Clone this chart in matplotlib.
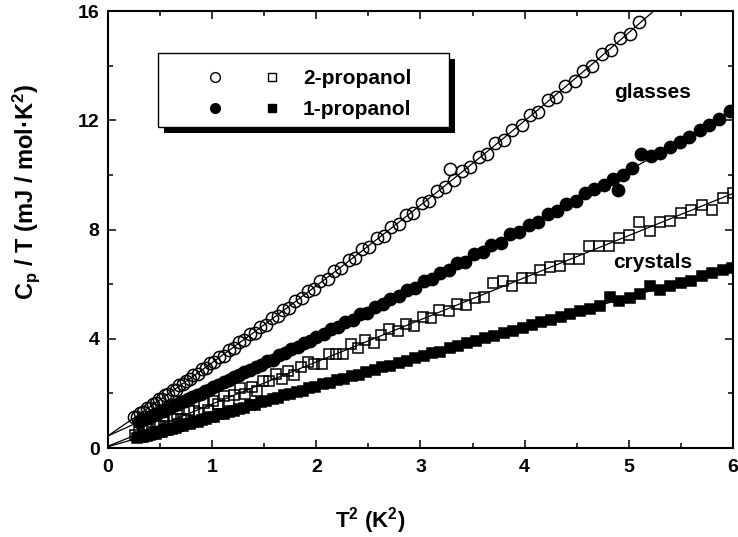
import numpy as np
import matplotlib.pyplot as plt
from matplotlib.lines import Line2D
from matplotlib.patches import Rectangle
from matplotlib.legend_handler import HandlerTuple
from matplotlib.ticker import MultipleLocator

plt.rcParams['font.family'] = 'Liberation Sans'
plt.rcParams['font.weight'] = 'bold'
plt.rcParams['axes.labelweight'] = 'bold'
plt.rcParams['mathtext.fontset'] = 'custom'
plt.rcParams['mathtext.rm'] = 'Liberation Sans:bold'
plt.rcParams['mathtext.it'] = 'Liberation Sans:bold'
plt.rcParams['mathtext.bf'] = 'Liberation Sans:bold'
plt.rcParams['mathtext.default'] = 'rm'

# 2-propanol glass (open circles), T^2 in K^2, Cp/T in mJ/mol K^2
x_2p_glass = [0.25, 0.28, 0.31, 0.34, 0.37, 0.40, 0.43, 0.46, 0.49, 0.52, 0.55, 0.58,
              0.62, 0.65, 0.68, 0.72, 0.75, 0.79, 0.82, 0.86, 0.90, 0.94, 0.98,
              1.02, 1.07, 1.11, 1.16, 1.21, 1.26, 1.31, 1.36, 1.41, 1.46, 1.52, 1.57,
              1.63, 1.68, 1.74, 1.80, 1.86, 1.92, 1.98,
              2.04, 2.11, 2.17, 2.24, 2.31, 2.37, 2.44, 2.51, 2.58, 2.65, 2.72, 2.79,
              2.86, 2.93,
              3.01, 3.08, 3.16, 3.24, 3.28, 3.32, 3.40, 3.48, 3.56, 3.64, 3.72, 3.80,
              3.88, 3.97,
              4.05, 4.13, 4.22, 4.30, 4.39, 4.48, 4.56, 4.65, 4.74, 4.83, 4.92, 5.01, 5.10]
y_2p_glass = [1.15, 1.12, 1.30, 1.31, 1.46, 1.47, 1.62, 1.63, 1.78, 1.80, 1.93, 1.96,
              2.12, 2.14, 2.29, 2.33, 2.47, 2.52, 2.67, 2.71, 2.88, 2.93, 3.10,
              3.15, 3.35, 3.38, 3.60, 3.66, 3.88, 3.94, 4.16, 4.22, 4.44, 4.52, 4.75,
              4.83, 5.06, 5.14, 5.40, 5.48, 5.75, 5.82,
              6.10, 6.20, 6.47, 6.58, 6.88, 6.95, 7.27, 7.36, 7.68, 7.77, 8.10, 8.20,
              8.52, 8.60,
              8.96, 9.06, 9.42, 9.55, 10.20, 9.80, 10.16, 10.28, 10.65, 10.78, 11.15, 11.28,
              11.65, 11.82,
              12.19, 12.32, 12.73, 12.86, 13.27, 13.44, 13.82, 13.99, 14.41, 14.58, 15.00, 15.17, 15.60]

# 1-propanol glass (filled circles)
x_1p_glass = [0.30, 0.33, 0.36, 0.39, 0.42, 0.45, 0.48, 0.51, 0.54, 0.57, 0.60, 0.64,
              0.67, 0.70, 0.74, 0.77, 0.81, 0.85, 0.89, 0.93, 0.97,
              1.01, 1.06, 1.11, 1.16, 1.21, 1.26, 1.31, 1.36, 1.42, 1.47, 1.53, 1.58,
              1.64, 1.70, 1.76, 1.82, 1.88, 1.94,
              2.00, 2.07, 2.14, 2.21, 2.28, 2.35, 2.42, 2.49, 2.56, 2.64, 2.71, 2.79,
              2.87, 2.95,
              3.03, 3.11, 3.19, 3.27, 3.35, 3.43, 3.51, 3.60, 3.68, 3.77, 3.86, 3.95,
              4.04, 4.13, 4.22, 4.31, 4.40, 4.49, 4.58, 4.67, 4.76, 4.85, 4.90, 4.94,
              5.03, 5.12, 5.21, 5.30, 5.40, 5.49, 5.58, 5.68, 5.77, 5.87, 5.97]
y_1p_glass = [0.95, 1.04, 1.06, 1.14, 1.16, 1.25, 1.27, 1.35, 1.37, 1.45, 1.48, 1.57,
              1.60, 1.68, 1.73, 1.81, 1.85, 1.94, 1.99, 2.09, 2.13,
              2.24, 2.30, 2.42, 2.48, 2.60, 2.66, 2.78, 2.84, 2.98, 3.04, 3.19, 3.24,
              3.39, 3.47, 3.62, 3.69, 3.84, 3.92,
              4.07, 4.16, 4.34, 4.43, 4.62, 4.70, 4.89, 4.96, 5.16, 5.26, 5.46, 5.55,
              5.78, 5.86,
              6.10, 6.18, 6.42, 6.50, 6.76, 6.82, 7.10, 7.17, 7.44, 7.52, 7.82, 7.90,
              8.18, 8.27, 8.56, 8.66, 8.93, 9.05, 9.32, 9.50, 9.62, 9.85, 9.45, 10.00,
              10.25, 10.78, 10.70, 10.80, 11.02, 11.22, 11.38, 11.65, 11.82, 12.05, 12.35]

# 2-propanol crystal (open squares)
x_2p_cryst = [0.26, 0.30, 0.34, 0.38, 0.42, 0.46, 0.50, 0.54, 0.58, 0.62, 0.66, 0.70,
              0.74, 0.78, 0.83, 0.87, 0.92, 0.96,
              1.01, 1.06, 1.11, 1.16, 1.21, 1.27, 1.32, 1.38, 1.43, 1.49, 1.55, 1.61,
              1.67, 1.73, 1.79, 1.85, 1.92, 1.98,
              2.05, 2.12, 2.19, 2.26, 2.33, 2.40, 2.47, 2.55, 2.62, 2.70, 2.78, 2.86, 2.94,
              3.02, 3.10, 3.18, 3.27, 3.35, 3.44, 3.52, 3.61, 3.70, 3.79, 3.88, 3.97,
              4.06, 4.15, 4.24, 4.34, 4.43, 4.52, 4.62, 4.71, 4.81, 4.91,
              5.00, 5.10, 5.20, 5.30, 5.40, 5.50, 5.60, 5.70, 5.80, 5.90, 6.00]
y_2p_cryst = [0.48, 0.63, 0.49, 0.69, 0.58, 0.91, 0.80, 0.97, 0.80, 1.06, 1.25, 1.08,
              1.08, 1.38, 1.35, 1.30, 1.63, 1.40,
              1.71, 1.62, 1.90, 1.72, 1.95, 2.18, 1.98, 2.25, 2.10, 2.46, 2.47, 2.71,
              2.54, 2.82, 2.68, 2.96, 3.16, 3.06,
              3.09, 3.45, 3.44, 3.44, 3.80, 3.68, 3.95, 3.86, 4.13, 4.34, 4.27, 4.54, 4.48,
              4.78, 4.77, 5.07, 5.01, 5.27, 5.24, 5.51, 5.54, 6.05, 6.11, 5.93, 6.21,
              6.22, 6.51, 6.63, 6.67, 6.91, 6.92, 7.38, 7.40, 7.41, 7.69,
              7.80, 8.28, 7.96, 8.27, 8.33, 8.60, 8.70, 8.89, 8.70, 9.16, 9.34]

# 1-propanol crystal (filled squares)
x_1p_cryst = [0.28, 0.31, 0.34, 0.37, 0.40, 0.43, 0.46, 0.49, 0.52, 0.55, 0.58, 0.61,
              0.65, 0.68, 0.72, 0.75, 0.79, 0.82, 0.86, 0.90, 0.94, 0.98,
              1.02, 1.07, 1.11, 1.16, 1.21, 1.26, 1.31, 1.36, 1.41, 1.47, 1.52, 1.58,
              1.63, 1.69, 1.75, 1.81, 1.87, 1.93, 1.99,
              2.06, 2.13, 2.20, 2.27, 2.34, 2.41, 2.48, 2.56, 2.63, 2.71, 2.79, 2.87, 2.95,
              3.03, 3.11, 3.19, 3.28, 3.36, 3.45, 3.53, 3.62, 3.71, 3.80, 3.89, 3.98,
              4.07, 4.16, 4.25, 4.35, 4.44, 4.53, 4.63, 4.72, 4.82, 4.91,
              5.01, 5.11, 5.20, 5.30, 5.40, 5.50, 5.60, 5.70, 5.80, 5.90, 5.99]
y_1p_cryst = [0.35, 0.40, 0.41, 0.45, 0.47, 0.52, 0.53, 0.59, 0.60, 0.65, 0.66, 0.71,
              0.73, 0.79, 0.81, 0.87, 0.89, 0.94, 0.97, 1.03, 1.06, 1.12,
              1.15, 1.23, 1.25, 1.33, 1.37, 1.44, 1.48, 1.56, 1.59, 1.68, 1.72, 1.80,
              1.84, 1.93, 1.97, 2.06, 2.10, 2.19, 2.24,
              2.33, 2.39, 2.49, 2.54, 2.64, 2.69, 2.79, 2.86, 2.95, 3.02, 3.12, 3.19, 3.30,
              3.36, 3.47, 3.53, 3.65, 3.72, 3.84, 3.90, 4.02, 4.10, 4.21, 4.29, 4.41,
              4.49, 4.60, 4.68, 4.81, 4.89, 5.00, 5.09, 5.21, 5.52, 5.40,
              5.50, 5.63, 5.92, 5.80, 5.93, 6.03, 6.13, 6.31, 6.39, 6.53, 6.60]

fig = plt.figure(figsize=(7.38, 5.37), dpi=100)
ax = fig.add_axes([0.1463, 0.1657, 0.8469, 0.8138])

circ = dict(marker='o', ms=8.8, ls='none', mec='k', mew=1.1)
squ = dict(marker='s', ms=7.8, ls='none', mec='k', mew=1.1)

ax.plot(x_2p_glass, y_2p_glass, mfc='none', **circ)
ax.plot(x_1p_glass, y_1p_glass, mfc='k', **circ)
ax.plot(x_2p_cryst, y_2p_cryst, mfc='none', **squ)
ax.plot(x_1p_cryst, y_1p_cryst, mfc='k', **squ)

# fitted curves
xx = np.linspace(0, 6, 300)
for xs, ys, deg in [(x_2p_glass, y_2p_glass, 2), (x_1p_glass, y_1p_glass, 2),
                    (x_2p_cryst, y_2p_cryst, 1), (x_1p_cryst, y_1p_cryst, 1)]:
    c = np.polyfit(xs, ys, deg)
    ax.plot(xx, np.polyval(c, xx), color='k', lw=0.9)

ax.set_xlim(0, 6)
ax.set_ylim(0, 16)
ax.set_xticks(range(7))
ax.set_yticks([0, 4, 8, 12, 16])
ax.xaxis.set_minor_locator(MultipleLocator(0.5))
ax.yaxis.set_minor_locator(MultipleLocator(2))
ax.tick_params(which='both', direction='in', top=True, right=True, width=1.1)
ax.tick_params(which='major', length=6, labelsize=14)
ax.tick_params(which='minor', length=3.5)
ax.tick_params(axis='x', pad=8)
ax.tick_params(axis='y', pad=6)
for s in ax.spines.values():
    s.set_linewidth(1.5)

ax.set_xlabel('T$^2$ (K$^2$)', fontsize=16)
ax.xaxis.set_label_coords(0.42, -0.13)
ax.set_ylabel('C$_p$ / T (mJ / mol·K$^2$)', fontsize=17)
ax.yaxis.set_label_coords(-0.105, 0.586)

ax.text(5.23, 13.0, 'glasses', ha='center', va='center', fontsize=15)
ax.text(5.23, 6.78, 'crystals', ha='center', va='center', fontsize=15)

# legend box with black drop shadow
bx, by, bw, bh = 0.08, 0.7346, 0.4656, 0.1693
ax.add_patch(Rectangle((bx + 0.0096, by - 0.0137), bw, bh, transform=ax.transAxes,
                       fc='k', ec='none', zorder=3.9, clip_on=False))
ax.add_patch(Rectangle((bx, by), bw, bh, transform=ax.transAxes,
                       fc='white', ec='k', lw=1.0, zorder=4, clip_on=False))

h_oc = Line2D([], [], marker='o', ms=7, ls='none', mfc='none', mec='k', mew=1.0)
h_fc = Line2D([], [], marker='o', ms=7, ls='none', mfc='k', mec='k', mew=1.0)
h_os = Line2D([], [], marker='s', ms=6, ls='none', mfc='none', mec='k', mew=1.0)
h_fs = Line2D([], [], marker='s', ms=6, ls='none', mfc='k', mec='k', mew=1.0)
leg = ax.legend([(h_oc, h_os), (h_fc, h_fs)], ['2-propanol', '1-propanol'],
                handler_map={tuple: HandlerTuple(ndivide=None, pad=0)},
                loc='upper left', bbox_to_anchor=(0.1256, 0.867),
                borderpad=0, borderaxespad=0, handlelength=5.47, handletextpad=0.12,
                labelspacing=0.58, frameon=False, fontsize=15)
leg.set_zorder(5)

fig.savefig('out.png', dpi=100)
